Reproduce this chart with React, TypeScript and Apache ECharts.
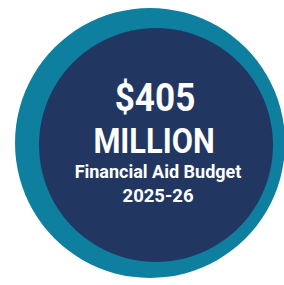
import React, { useEffect, useRef } from "react";
import * as echarts from "echarts";

const amountLabel = "$405";
const unitLabel = "MILLION";
const captionLabel = "Financial Aid Budget";
const yearLabel = "2025-26";

export default function App() {
  const ref = useRef<HTMLDivElement>(null);
  useEffect(() => {
    if (!ref.current) return;
    const chart = echarts.init(ref.current, undefined, { renderer: "svg" });
    const font = "Roboto, 'Liberation Sans', sans-serif";
    const txt = (text: string, x: number, y: number, size: number, sx: number) => ({
      type: "text",
      x,
      y,
      scaleX: sx,
      style: {
        text,
        fill: "#ffffff",
        font: `bold ${size}px ${font}`,
        textAlign: "center",
        textVerticalAlign: "middle",
      },
    });
    chart.setOption({
      animation: false,
      backgroundColor: "#ffffff",
      graphic: [
        { type: "circle", shape: { cx: 150, cy: 143, r: 135 }, style: { fill: "#0f7f9f" } },
        { type: "circle", shape: { cx: 156, cy: 145, r: 117 }, style: { fill: "#213762" } },
        txt(amountLabel, 155, 98, 39, 0.9),
        txt(unitLabel, 154, 141, 35, 0.88),
        txt(captionLabel, 158, 171, 18, 1.0),
        txt(yearLabel, 158, 196, 18.5, 1.0),
      ],
    });
    return () => chart.dispose();
  }, []);
  return <div ref={ref} style={{ position: "fixed", left: 0, top: 0, width: 284, height: 285 }} />;
}
